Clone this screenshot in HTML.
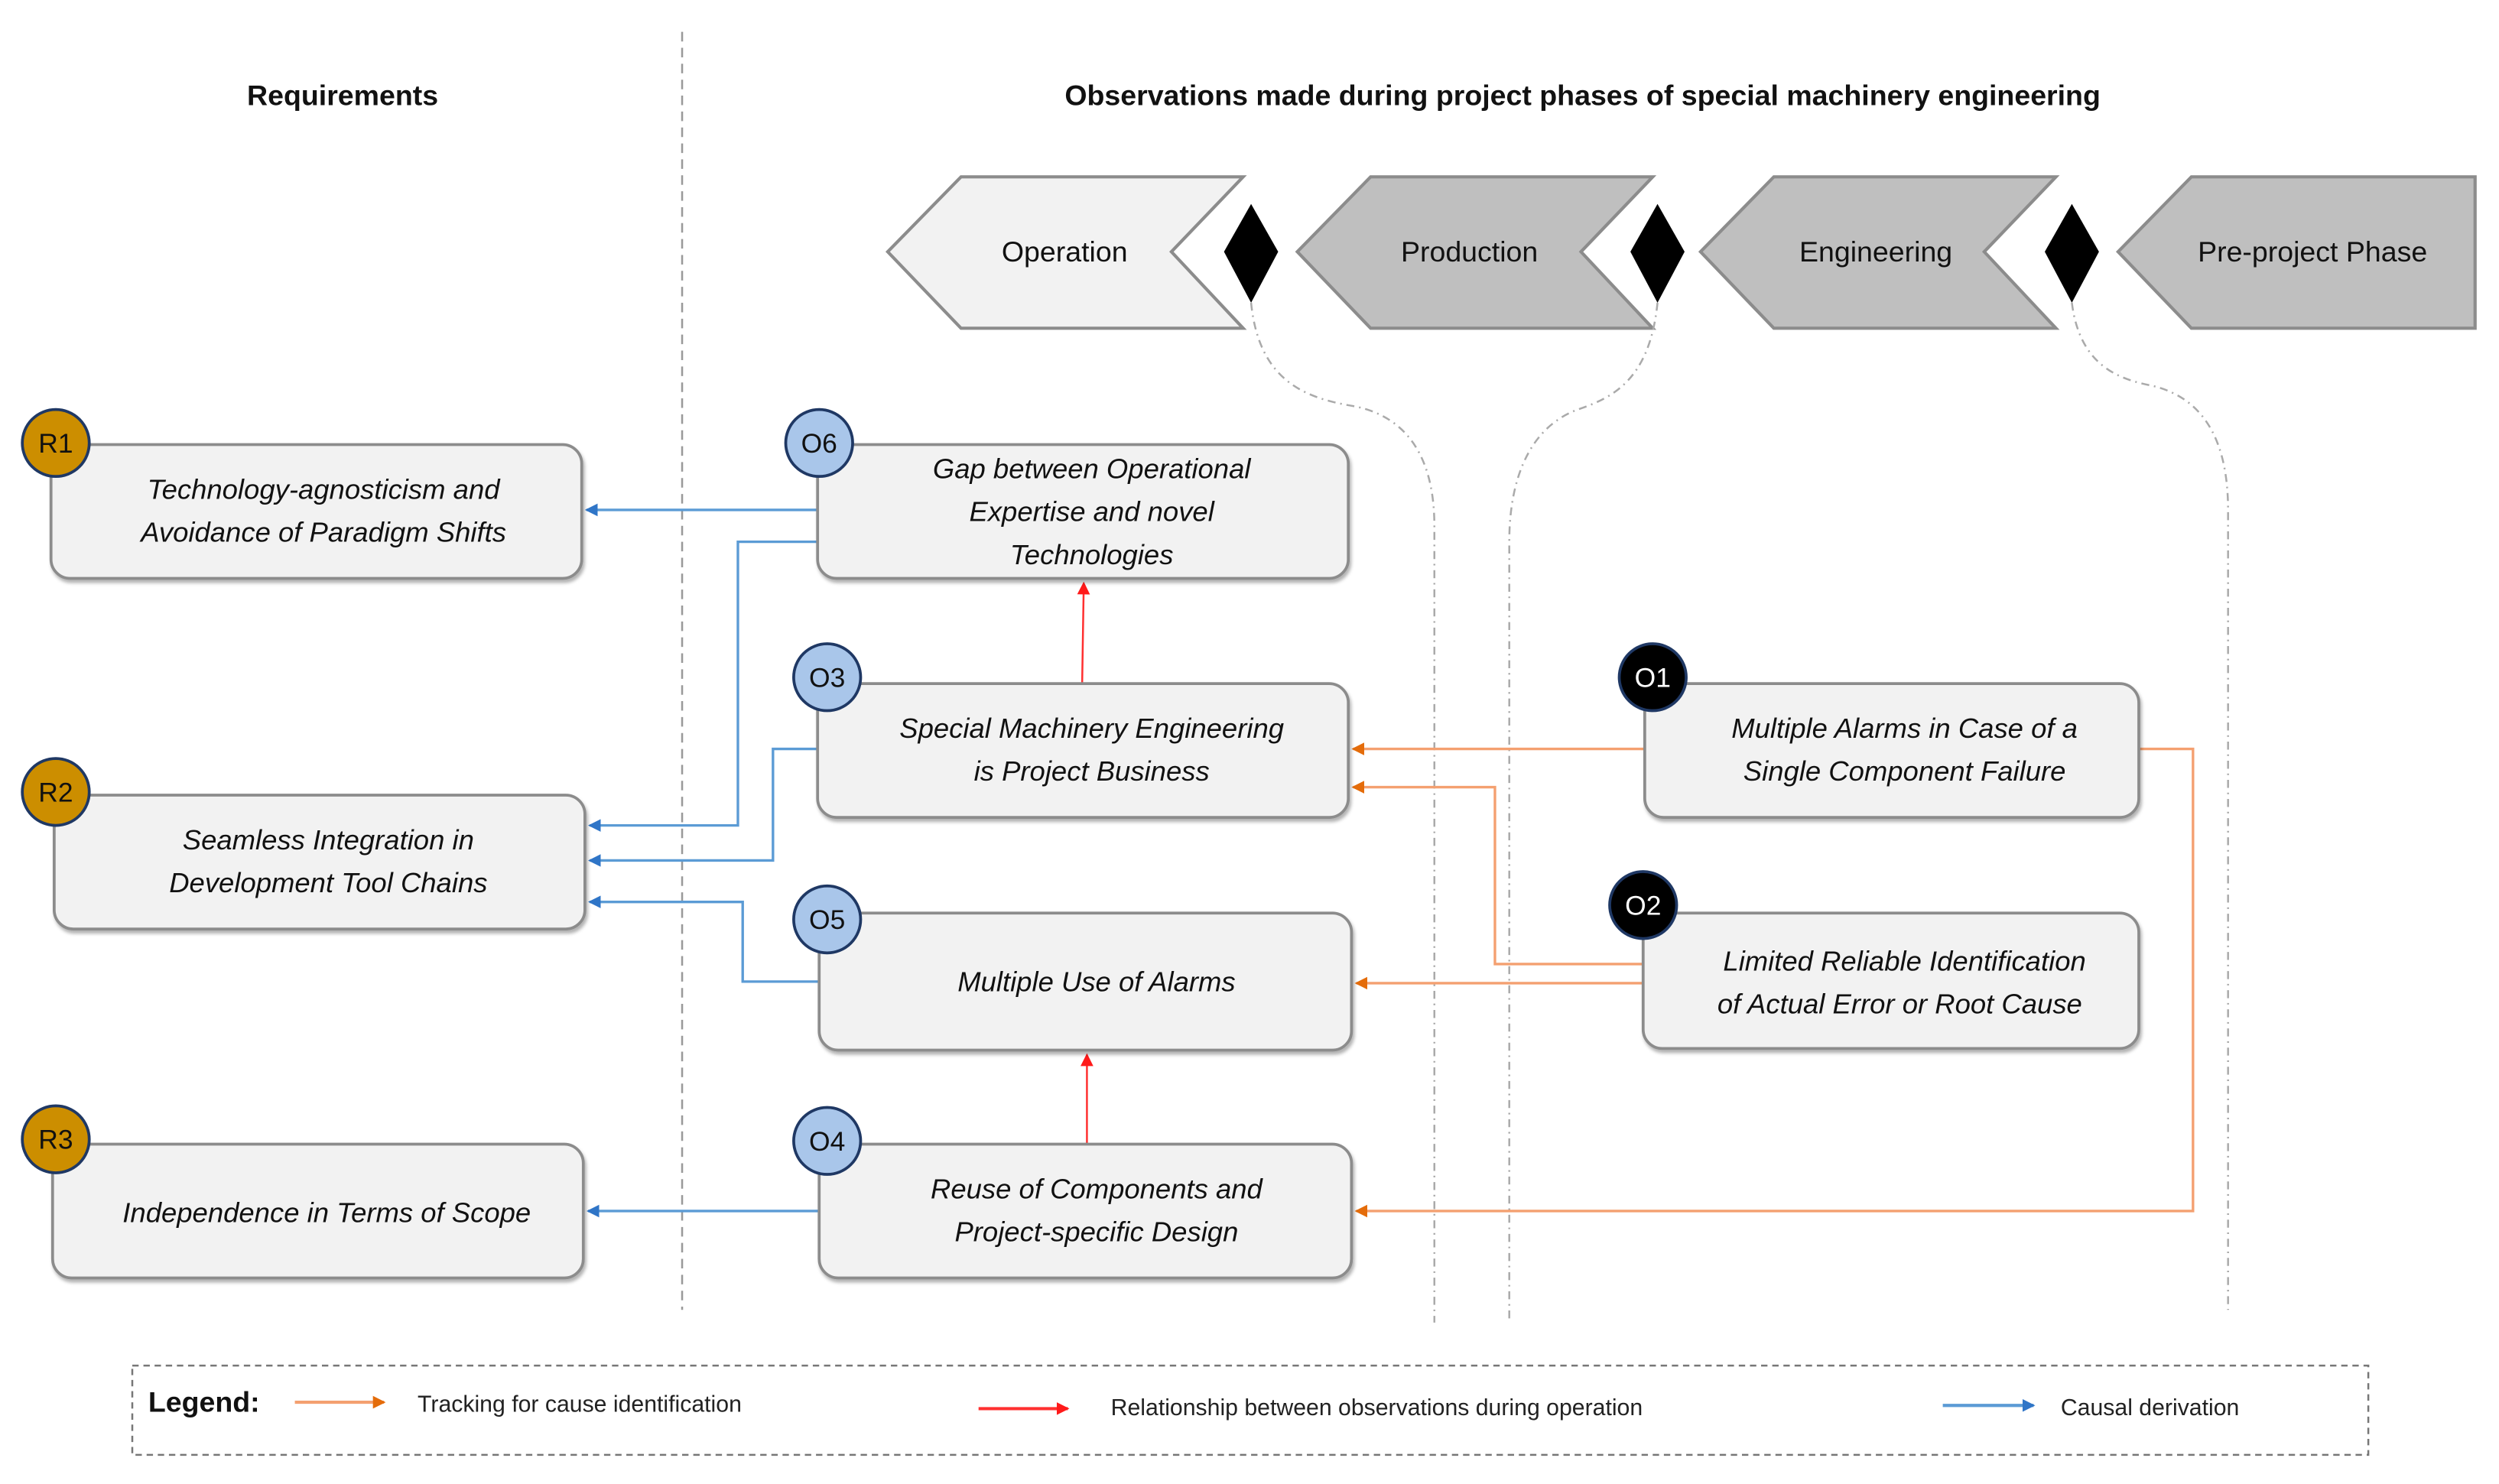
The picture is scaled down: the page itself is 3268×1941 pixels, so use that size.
<!DOCTYPE html>
<html><head><meta charset="utf-8"><style>
html,body{margin:0;padding:0;background:#fff;}
svg{display:block;}
text{font-family:"Liberation Sans",sans-serif;}
.b{font-style:italic;font-size:17.5px;fill:#111;text-anchor:middle;}
.ph{font-size:18px;fill:#111;text-anchor:middle;}
.c{font-size:17px;text-anchor:middle;}
.lg{font-size:14.5px;fill:#222;}
</style></head><body>
<svg width="3268" height="1941" viewBox="0 0 1568 931.3" xmlns="http://www.w3.org/2000/svg">
<defs>
<marker id="ab" markerWidth="8" markerHeight="8" refX="7" refY="4" orient="auto" markerUnits="userSpaceOnUse"><path d="M0,0 L8,4 L0,8 z" fill="#2f75c7"/></marker>
<marker id="ao" markerWidth="8" markerHeight="8" refX="7" refY="4" orient="auto" markerUnits="userSpaceOnUse"><path d="M0,0 L8,4 L0,8 z" fill="#e46c0a"/></marker>
<marker id="ar" markerWidth="8" markerHeight="8" refX="7" refY="4" orient="auto" markerUnits="userSpaceOnUse"><path d="M0,0 L8,4 L0,8 z" fill="#ff1a1a"/></marker>
<filter id="sh" x="-5%" y="-5%" width="110%" height="120%"><feDropShadow dx="1" dy="2" stdDeviation="1" flood-color="#000" flood-opacity="0.3"/></filter>
</defs>

<text x="215" y="66" font-size="18" font-weight="bold" text-anchor="middle" fill="#111">Requirements</text>
<text x="993" y="66" font-size="18" font-weight="bold" text-anchor="middle" fill="#111">Observations made during project phases of special machinery engineering</text>
<line x1="428" y1="20" x2="428" y2="822" stroke="#999" stroke-width="1.2" stroke-dasharray="6,4"/>

<polygon points="603,111 780,111 735,158 780,206 603,206 557,158" fill="#f2f2f2" stroke="#8c8c8c" stroke-width="2"/>
<polygon points="860,111 1037,111 992,158 1037,206 860,206 814,158" fill="#bfbfbf" stroke="#8c8c8c" stroke-width="2"/>
<polygon points="1113,111 1290,111 1245,158 1290,206 1113,206 1067,158" fill="#bfbfbf" stroke="#8c8c8c" stroke-width="2"/>
<polygon points="1375,111 1553,111 1553,206 1375,206 1329,158" fill="#bfbfbf" stroke="#8c8c8c" stroke-width="2"/>
<text class="ph" x="668" y="164">Operation</text>
<text class="ph" x="922" y="164">Production</text>
<text class="ph" x="1177" y="164">Engineering</text>
<text class="ph" x="1451" y="164">Pre-project Phase</text>
<polygon points="785,128 802,158 785,190 768,158" fill="#000"/>
<polygon points="1040,128 1057,158 1040,190 1023,158" fill="#000"/>
<polygon points="1300,128 1317,158 1300,190 1283,158" fill="#000"/>

<g fill="none" stroke="#aaa" stroke-width="1.2" stroke-dasharray="5,3,1,3">
<path d="M785,190 C790,240 820,250 850,255 C885,262 900,290 900,330 L900,830"/>
<path d="M1040,190 C1035,240 1010,250 990,257 C960,268 947,300 947,340 L947,830"/>
<path d="M1300,190 C1305,230 1330,238 1350,242 C1385,250 1398,280 1398,320 L1398,822"/>
</g>

<g fill="none" stroke-width="1.6">
<path d="M513,320 L368,320" stroke="#5b9bd5" marker-end="url(#ab)"/>
<path d="M513,340 L463,340 L463,518 L370,518" stroke="#5b9bd5" marker-end="url(#ab)"/>
<path d="M513,470 L485,470 L485,540 L370,540" stroke="#5b9bd5" marker-end="url(#ab)"/>
<path d="M514,616 L466,616 L466,566 L370,566" stroke="#5b9bd5" marker-end="url(#ab)"/>
<path d="M514,760 L369,760" stroke="#5b9bd5" marker-end="url(#ab)"/>
<path d="M679,429 L680,366" stroke="#ff3030" stroke-width="1.2" marker-end="url(#ar)"/>
<path d="M682,718 L682,662" stroke="#ff3030" stroke-width="1.2" marker-end="url(#ar)"/>
<path d="M1032,470 L849,470" stroke="#f4a070" marker-end="url(#ao)"/>
<path d="M1031,605 L938,605 L938,494 L849,494" stroke="#f4a070" marker-end="url(#ao)"/>
<path d="M1031,617 L851,617" stroke="#f4a070" marker-end="url(#ao)"/>
<path d="M1342,470 L1376,470 L1376,760 L851,760" stroke="#f4a070" marker-end="url(#ao)"/>
</g>

<g fill="#f2f2f2" stroke="#8c8c8c" stroke-width="1.8" filter="url(#sh)">
<rect x="32" y="279" width="333" height="84" rx="12"/>
<rect x="34" y="499" width="333" height="84" rx="12"/>
<rect x="33" y="718" width="333" height="84" rx="12"/>
<rect x="513" y="279" width="333" height="84" rx="12"/>
<rect x="513" y="429" width="333" height="84" rx="12"/>
<rect x="514" y="573" width="334" height="86" rx="12"/>
<rect x="514" y="718" width="334" height="84" rx="12"/>
<rect x="1032" y="429" width="310" height="84" rx="12"/>
<rect x="1031" y="573" width="311" height="85" rx="12"/>
</g>
<text class="b" x="203" y="313">Technology-agnosticism and</text>
<text class="b" x="203" y="340">Avoidance of Paradigm Shifts</text>
<text class="b" x="206" y="533">Seamless Integration in</text>
<text class="b" x="206" y="560">Development Tool Chains</text>
<text class="b" x="205" y="767">Independence in Terms of Scope</text>
<text class="b" x="685" y="300">Gap between Operational</text>
<text class="b" x="685" y="327">Expertise and novel</text>
<text class="b" x="685" y="354">Technologies</text>
<text class="b" x="685" y="463">Special Machinery Engineering</text>
<text class="b" x="685" y="490">is Project Business</text>
<text class="b" x="688" y="622">Multiple Use of Alarms</text>
<text class="b" x="688" y="752">Reuse of Components and</text>
<text class="b" x="688" y="779">Project-specific Design</text>
<text class="b" x="1195" y="463">Multiple Alarms in Case of a</text>
<text class="b" x="1195" y="490">Single Component Failure</text>
<text class="b" x="1195" y="609">Limited Reliable Identification</text>
<text class="b" x="1192" y="636">of Actual Error or Root Cause</text>

<g stroke="#1f3864" stroke-width="1.8">
<circle cx="35" cy="278" r="21" fill="#cc8e00"/>
<circle cx="35" cy="497" r="21" fill="#cc8e00"/>
<circle cx="35" cy="715" r="21" fill="#cc8e00"/>
<circle cx="514" cy="278" r="21" fill="#a9c6ea"/>
<circle cx="519" cy="425" r="21" fill="#a9c6ea"/>
<circle cx="519" cy="577" r="21" fill="#a9c6ea"/>
<circle cx="519" cy="716" r="21" fill="#a9c6ea"/>
<circle cx="1037" cy="425" r="21" fill="#000"/>
<circle cx="1031" cy="568" r="21" fill="#000"/>
</g>
<text class="c" x="35" y="284" fill="#111">R1</text>
<text class="c" x="35" y="503" fill="#111">R2</text>
<text class="c" x="35" y="721" fill="#111">R3</text>
<text class="c" x="514" y="284" fill="#111">O6</text>
<text class="c" x="519" y="431" fill="#111">O3</text>
<text class="c" x="519" y="583" fill="#111">O5</text>
<text class="c" x="519" y="722" fill="#111">O4</text>
<text class="c" x="1037" y="431" fill="#fff">O1</text>
<text class="c" x="1031" y="574" fill="#fff">O2</text>

<rect x="83" y="857" width="1403" height="56" fill="none" stroke="#777" stroke-width="1.2" stroke-dasharray="4,3"/>
<text x="93" y="886" font-size="18" font-weight="bold" fill="#111">Legend:</text>
<line x1="185" y1="880" x2="241" y2="880" stroke="#f4a070" stroke-width="2" marker-end="url(#ao)"/>
<text class="lg" x="262" y="886">Tracking for cause identification</text>
<line x1="614" y1="884" x2="670" y2="884" stroke="#ff3030" stroke-width="2" marker-end="url(#ar)"/>
<text class="lg" x="697" y="888">Relationship between observations during operation</text>
<line x1="1219" y1="882" x2="1276" y2="882" stroke="#5b9bd5" stroke-width="2" marker-end="url(#ab)"/>
<text class="lg" x="1293" y="888">Causal derivation</text>
</svg>
</body></html>
